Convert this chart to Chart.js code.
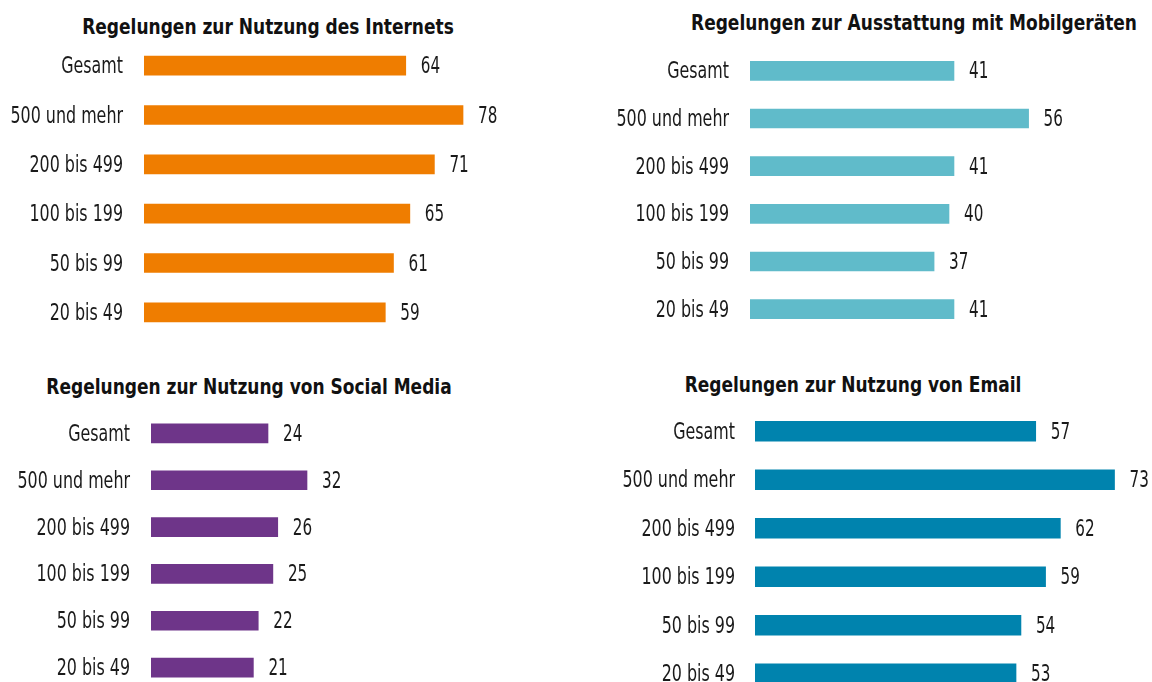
<!DOCTYPE html>
<html>
<head>
<meta charset="utf-8">
<script src="https://cdn.jsdelivr.net/npm/chart.js@4"></script>
<style>
  html, body { margin: 0; padding: 0; background: #fff; width: 1152px; height: 682px; overflow: hidden; }
  body { position: relative; font-family: 'DejaVu Sans Condensed', 'DejaVu Sans', sans-serif; }
  canvas { position: absolute; }
  .title {
    position: absolute; width: 600px; text-align: center;
    font-weight: bold; font-size: 22px; line-height: 26px; color: #111;
    white-space: nowrap; transform: scaleX(0.86); transform-origin: 50% 50%;
  }
</style>
</head>
<body>
<div class="title" style="left:-32px;top:14px">Regelungen zur Nutzung des Internets</div>
<div class="title" style="left:614px;top:10px">Regelungen zur Ausstattung mit Mobilgeräten</div>
<div class="title" style="left:-51px;top:374px">Regelungen zur Nutzung von Social Media</div>
<div class="title" style="left:553px;top:372px">Regelungen zur Nutzung von Email</div>

<canvas id="c1" width="553" height="296" style="left:0;top:41px"></canvas>
<canvas id="c2" width="548" height="286" style="left:600px;top:47px"></canvas>
<canvas id="c3" width="541" height="281" style="left:0;top:410px"></canvas>
<canvas id="c4" width="549" height="291" style="left:600px;top:407px"></canvas>

<script>
const categories = ['Gesamt', '500 und mehr', '200 bis 499', '100 bis 199', '50 bis 99', '20 bis 49'];
const internet = [64, 78, 71, 65, 61, 59];
const mobilgeraete = [41, 56, 41, 40, 37, 41];
const socialMedia = [24, 32, 26, 25, 22, 21];
const email = [57, 73, 62, 59, 54, 53];

const FONT = "'DejaVu Sans Condensed', 'DejaVu Sans', sans-serif";
const TEXT = '#1a1a1a';
// the original uses a condensed face, so squeeze the text horizontally
const LABEL_SQUEEZE = 0.785;
const VALUE_SQUEEZE = 0.75;

Chart.defaults.font.family = FONT;
Chart.defaults.color = TEXT;

// category names left of the bars and values right of them
const narrowText = {
  id: 'narrowText',
  afterDatasetsDraw(chart, args, opts) {
    const ctx = chart.ctx;
    const yScale = chart.scales.y;
    const ds = chart.data.datasets[0];
    ctx.save();
    ctx.font = '22.5px ' + FONT;
    ctx.fillStyle = TEXT;
    ctx.textBaseline = 'alphabetic';
    chart.data.labels.forEach((lab, i) => {
      const y = yScale.getPixelForValue(i);
      ctx.save();
      ctx.translate(chart.chartArea.left - opts.pad, y + 7.5);
      ctx.scale(LABEL_SQUEEZE, 1);
      ctx.textAlign = 'right';
      ctx.fillText(lab, 0, 0);
      ctx.restore();
    });
    chart.getDatasetMeta(0).data.forEach((bar, i) => {
      ctx.save();
      ctx.translate(bar.x + opts.gap, bar.y + 7.5);
      ctx.scale(VALUE_SQUEEZE, 1);
      ctx.textAlign = 'left';
      ctx.fillText(ds.data[i], 0, 0);
      ctx.restore();
    });
    ctx.restore();
  }
};

function makeChart(id, values, color, axisWidth, pad, max, thickness) {
  return new Chart(document.getElementById(id), {
    type: 'bar',
    data: {
      labels: categories,
      datasets: [{
        data: values,
        backgroundColor: color,
        barThickness: thickness
      }]
    },
    options: {
      indexAxis: 'y',
      responsive: false,
      animation: false,
      layout: { padding: 0 },
      plugins: {
        legend: { display: false },
        tooltip: { enabled: false },
        narrowText: { pad: pad, gap: 15 }
      },
      scales: {
        x: { display: false, min: 0, max: max },
        y: {
          grid: { display: false, drawTicks: false },
          border: { display: false },
          ticks: { display: false },
          afterFit(scale) { scale.width = axisWidth; }
        }
      }
    },
    plugins: [narrowText]
  });
}

makeChart('c1', internet, '#ef7d00', 144, 21, 100, 19);
makeChart('c2', mobilgeraete, '#60bbca', 150, 21, 80, 19);
makeChart('c3', socialMedia, '#6e3589', 151, 21, 80, 19);
makeChart('c4', email, '#0083ae', 155, 20, 80, 20);
</script>
</body>
</html>
